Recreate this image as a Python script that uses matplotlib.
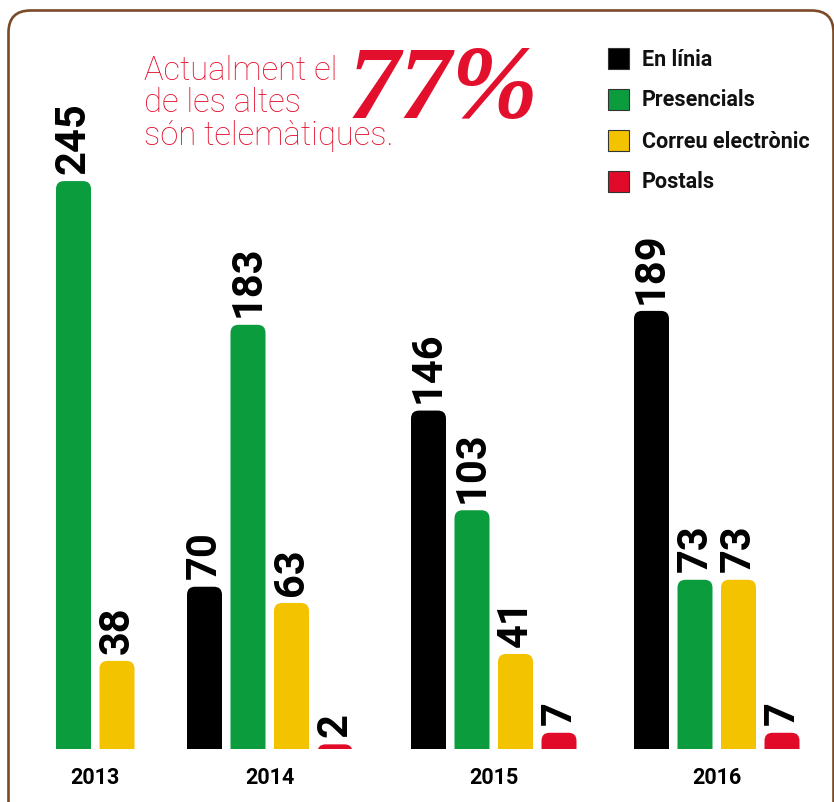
import matplotlib.pyplot as plt
from matplotlib.patches import FancyBboxPatch, Rectangle

# data
years = ['2013', '2014', '2015', '2016']
series_names = ['En línia', 'Presencials', 'Correu electrònic', 'Postals']
en_linia = [None, 70, 146, 189]
presencials = [245, 183, 103, 73]
correu = [38, 63, 41, 73]
postals = [None, 2, 7, 7]
series_colors = ['#000000', '#0a9c3d', '#f4c300', '#e10a28']

title_lines = ['Actualment el', 'de les altes', 'són telemàtiques.']
big_number = '77%'

# layout (pixels)
W, H = 834, 803
baseline = 750
px_per_unit = 2.318
group_starts = [56, 187, 411, 634]
bar_w = 35
bar_step = 43.5
red = '#e3102d'

fig = plt.figure(figsize=(W / 100, H / 100), dpi=100)

# background layer: frame, title, legend
bg = fig.add_axes([0, 0, 1, 1])
bg.set_xlim(0, W)
bg.set_ylim(H, 0)
bg.axis('off')

frame = FancyBboxPatch((8.5, 11.5), 825, 840, boxstyle='round,pad=0,rounding_size=22',
                       fill=False, edgecolor='#7b4a28', linewidth=1.9)
bg.add_patch(frame)

for i, line in enumerate(title_lines):
    bg.text(144, 80 + i * 32.5, line, color=red, fontsize=23.6, family='Roboto',
            fontweight='light', va='baseline', ha='left')
bg.text(348, 118, big_number, color=red, fontsize=75, family=['Liberation Serif', 'DejaVu Serif'],
        fontweight='bold', style='italic', va='baseline', ha='left')

for i, (name, col) in enumerate(zip(series_names, series_colors)):
    yc = 59.5 + i * 41
    bg.add_patch(Rectangle((608, yc - 10.5), 21, 21, facecolor=col, edgecolor='#333333', linewidth=0.8))
    bg.text(642, yc, name, fontsize=15.5, family='Roboto',
            fontweight='bold', va='center', ha='left', color='#111111')

# chart layer
ax = fig.add_axes([0, (H - baseline) / H, 1, baseline / H])
ax.patch.set_alpha(0)
ax.set_xlim(0, W)
ax.set_ylim(0, baseline / px_per_unit)
for s in ax.spines.values():
    s.set_visible(False)
ax.set_yticks([])

all_series = [en_linia, presencials, correu, postals]
centers = []
for g, year in enumerate(years):
    x = group_starts[g]
    xs = []
    for vals, col in zip(all_series, series_colors):
        v = vals[g]
        if v is None:
            continue
        bar = FancyBboxPatch((x, -6), bar_w, v + 6, boxstyle='round,pad=0,rounding_size=8',
                             mutation_aspect=1 / px_per_unit, facecolor=col, edgecolor='none')
        ax.add_patch(bar)
        ax.annotate(str(v), xy=(x + bar_w / 2, v), xytext=(0, 6), textcoords='offset points',
                    rotation=90, ha='center', va='bottom', fontsize=30, family='Roboto',
                    fontweight='bold', color='#000000')
        xs.append(x)
        x += bar_step
    centers.append((xs[0] + xs[-1] + bar_w) / 2)

ax.set_xticks(centers, years)
ax.tick_params(axis='x', length=0, pad=12.5)
for lbl in ax.get_xticklabels():
    lbl.set_fontsize(15.5)
    lbl.set_fontweight('bold')
    lbl.set_family('Roboto')

fig.savefig('out.png', dpi=100)
